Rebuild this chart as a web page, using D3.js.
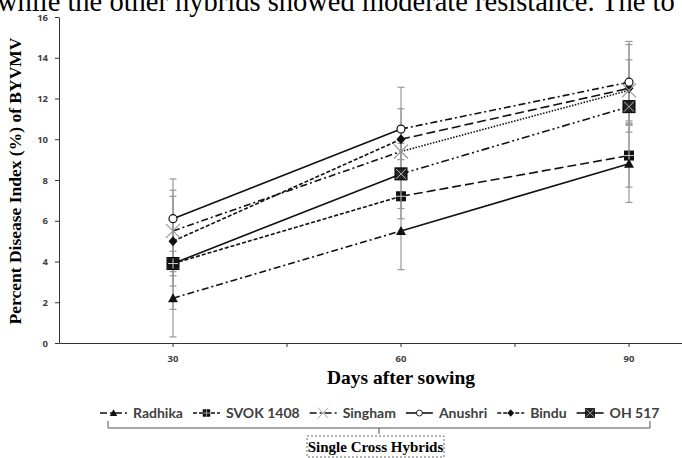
<!doctype html>
<meta charset="utf-8">
<title>BYVMV disease index</title>
<script src="https://cdn.jsdelivr.net/npm/d3@7"></script>
<style>
  body { margin: 0; background: #fff; }
  svg { display: block; }
</style>
<div id="chart"></div>
<script>
  // data
  const days = ["30", "60", "90"]
  const hybrids = ["Radhika", "SVOK 1408", "Singham", "Anushri", "Bindu", "OH 517"]
  const radhika = [2.2, 5.5, 8.8]
  const svok = [3.9, 7.2, 9.2]
  const singham = [5.5, 9.4, 12.4]
  const anushri = [6.1, 10.5, 12.8]
  const bindu = [5.0, 10.0, 12.5]
  const oh517 = [3.9, 8.3, 11.6]
  // +/- error
  const radhikaErr = [1.9, 1.9, 1.9]
  const svokErr = [2.25, 1.1, 1.55]
  const singhamErr = [2.0, 0.4, 1.5]
  const anushriErr = [1.95, 2.05, 2.0]
  const binduErr = [2.2, 1.5, 2.15]
  const oh517Err = [0.6, 1.7, 0.9]
  const yTicks = [0, 2, 4, 6, 8, 10, 12, 14, 16]

  const values = [radhika, svok, singham, anushri, bindu, oh517]
  const errors = [radhikaErr, svokErr, singhamErr, anushriErr, binduErr, oh517Err]

  // dash style of each segment (30-60, 60-90)
  const solid = null, dashDot = "7,3,2,3", shortDash = "4,2", longDash = "9,4",
    dotted = "1.5,1.5", dashDotDot = "8,3,2,3,2,3"
  const segStyle = [
    [dashDot, solid],
    [shortDash, longDash],
    [dashDot, dotted],
    [solid, dashDot],
    [shortDash, longDash],
    [solid, dashDotDot]
  ]
  const markers = ["triangle", "squareCross", "x", "circle", "diamond", "squareX"]

  const W = 682, H = 458
  const svg = d3.select("#chart").append("svg")
    .attr("width", W).attr("height", H)

  // clipped line of body text at the top
  svg.append("text")
    .attr("x", -3).attr("y", 11)
    .style("font-family", "'Liberation Serif', 'Times New Roman', serif")
    .style("font-size", "28.5px")
    .text("while the other hybrids showed moderate resistance. The to")

  const x = d3.scaleBand().domain(days).range([59, 743])
  const y = d3.scaleLinear().domain([0, 16]).range([343, 17])
  const cx = d => x(d) + x.bandwidth() / 2

  const tickFont = "'Open Sans', 'DejaVu Sans', sans-serif"

  // y axis
  const yAxis = svg.append("g").attr("transform", "translate(59,0)")
    .call(d3.axisLeft(y).tickValues(yTicks).tickSize(4).tickSizeOuter(0).tickPadding(7))
  yAxis.select(".domain").attr("stroke", "#333")
  yAxis.selectAll("line").attr("stroke", "#333")
  yAxis.selectAll("text").style("font-family", tickFont).style("font-size", "9.5px")
    .style("font-weight", "bold").attr("fill", "#404040")

  // x axis
  const xAxis = svg.append("g").attr("transform", "translate(0,343)")
    .call(d3.axisBottom(x).tickSize(4).tickSizeOuter(0).tickPadding(8))
  xAxis.select(".domain").attr("stroke", "#333")
  xAxis.selectAll("line").attr("stroke", "#333")
  xAxis.selectAll("text").style("font-family", tickFont).style("font-size", "9.5px")
    .style("font-weight", "bold").attr("fill", "#404040")
  // boundary ticks between categories
  xAxis.selectAll(".bnd").data(days.slice(1)).enter().append("line")
    .attr("x1", d => x(d)).attr("x2", d => x(d))
    .attr("y1", 0).attr("y2", 4).attr("stroke", "#333")

  // axis titles
  svg.append("text")
    .attr("transform", "translate(21,181) rotate(-90)")
    .attr("text-anchor", "middle")
    .style("font-family", "'Liberation Serif', 'DejaVu Serif', serif")
    .style("font-weight", "bold").style("font-size", "17.5px")
    .text("Percent Disease Index (%) of BYVMV")

  svg.append("text")
    .attr("x", 401).attr("y", 384)
    .attr("text-anchor", "middle")
    .style("font-family", "'Liberation Serif', 'DejaVu Serif', serif")
    .style("font-weight", "bold").style("font-size", "19.5px")
    .text("Days after sowing")

  // error bars
  const eb = svg.append("g").attr("stroke", "#999").attr("stroke-width", 1.2)
  values.forEach((vals, s) => {
    vals.forEach((v, i) => {
      const e = errors[s][i], px = cx(days[i])
      eb.append("line").attr("x1", px).attr("x2", px).attr("y1", y(v - e)).attr("y2", y(v + e))
      eb.append("line").attr("x1", px - 3.5).attr("x2", px + 3.5).attr("y1", y(v - e)).attr("y2", y(v - e))
      eb.append("line").attr("x1", px - 3.5).attr("x2", px + 3.5).attr("y1", y(v + e)).attr("y2", y(v + e))
    })
  })

  // series lines, one segment at a time
  const lines = svg.append("g").attr("fill", "none").attr("stroke", "#111").attr("stroke-width", 1.6)
  values.forEach((vals, s) => {
    for (let i = 0; i < vals.length - 1; i++) {
      lines.append("line")
        .attr("x1", cx(days[i])).attr("y1", y(vals[i]))
        .attr("x2", cx(days[i + 1])).attr("y2", y(vals[i + 1]))
        .attr("stroke-dasharray", segStyle[s][i])
    }
  })

  function drawMarker(g, type, px, py) {
    if (type === "triangle") {
      g.append("path").attr("d", `M${px},${py - 5}L${px + 5},${py + 4}L${px - 5},${py + 4}Z`).attr("fill", "#111")
    } else if (type === "squareCross") {
      g.append("rect").attr("x", px - 5).attr("y", py - 5).attr("width", 10).attr("height", 10).attr("fill", "#111")
      g.append("path").attr("d", `M${px - 5},${py}H${px + 5}M${px},${py - 5}V${py + 5}`).attr("stroke", "#ccc").attr("stroke-width", 1)
    } else if (type === "x") {
      g.append("path").attr("d", `M${px - 7},${py - 7}L${px + 7},${py + 7}M${px - 7},${py + 7}L${px + 7},${py - 7}`)
        .attr("stroke", "#999").attr("stroke-width", 1.2).attr("fill", "none")
    } else if (type === "circle") {
      g.append("circle").attr("cx", px).attr("cy", py).attr("r", 4).attr("fill", "#fff").attr("stroke", "#111").attr("stroke-width", 1.2)
    } else if (type === "diamond") {
      g.append("path").attr("d", `M${px},${py - 5}L${px + 4.5},${py}L${px},${py + 5}L${px - 4.5},${py}Z`).attr("fill", "#111")
    } else if (type === "squareX") {
      g.append("rect").attr("x", px - 6).attr("y", py - 6).attr("width", 12).attr("height", 12).attr("fill", "#222").attr("stroke", "#000")
      g.append("path").attr("d", `M${px - 5},${py - 5}L${px + 5},${py + 5}M${px - 5},${py + 5}L${px + 5},${py - 5}`)
        .attr("stroke", "#bbb").attr("stroke-width", 1)
    }
  }

  // markers (draw wide ones first)
  const mk = svg.append("g")
  const order = [5, 1, 0, 4, 2, 3]
  order.forEach(s => {
    values[s].forEach((v, i) => drawMarker(mk, markers[s], cx(days[i]), y(v)))
  })

  // legend
  const legFont = "Lato, 'Open Sans', sans-serif"
  const leg = svg.append("g")
  let lx = 100
  const ly = 413
  hybrids.forEach((name, s) => {
    const it = leg.append("g")
    it.append("line").attr("x1", lx).attr("x2", lx + 27).attr("y1", ly).attr("y2", ly)
      .attr("stroke", "#111").attr("stroke-width", 1.6).attr("stroke-dasharray", segStyle[s][0])
    const sg = it.append("g").attr("transform", `translate(${lx + 13.5},${ly}) scale(0.75) translate(${-(lx + 13.5)},${-ly})`)
    drawMarker(sg, markers[s], lx + 13.5, ly)
    const t = it.append("text").attr("x", lx + 33).attr("y", ly + 5)
      .style("font-family", legFont).style("font-weight", "bold").style("font-size", "14px")
      .attr("fill", "#404040").text(name)
    lx += 33 + t.node().getComputedTextLength() + 10
  })

  // bracket under legend
  svg.append("path")
    .attr("d", "M108,421V428H650V421M379,428V434")
    .attr("fill", "none").attr("stroke", "#555").attr("stroke-width", 1)

  // group label box
  svg.append("rect").attr("x", 307).attr("y", 436).attr("width", 137).attr("height", 21)
    .attr("fill", "#fff").attr("stroke", "#666").attr("stroke-dasharray", "2,2")
  svg.append("text").attr("x", 375.5).attr("y", 452)
    .attr("text-anchor", "middle")
    .style("font-family", "'Liberation Serif', 'DejaVu Serif', serif")
    .style("font-weight", "bold").style("font-size", "15px")
    .text("Single Cross Hybrids")
</script>
